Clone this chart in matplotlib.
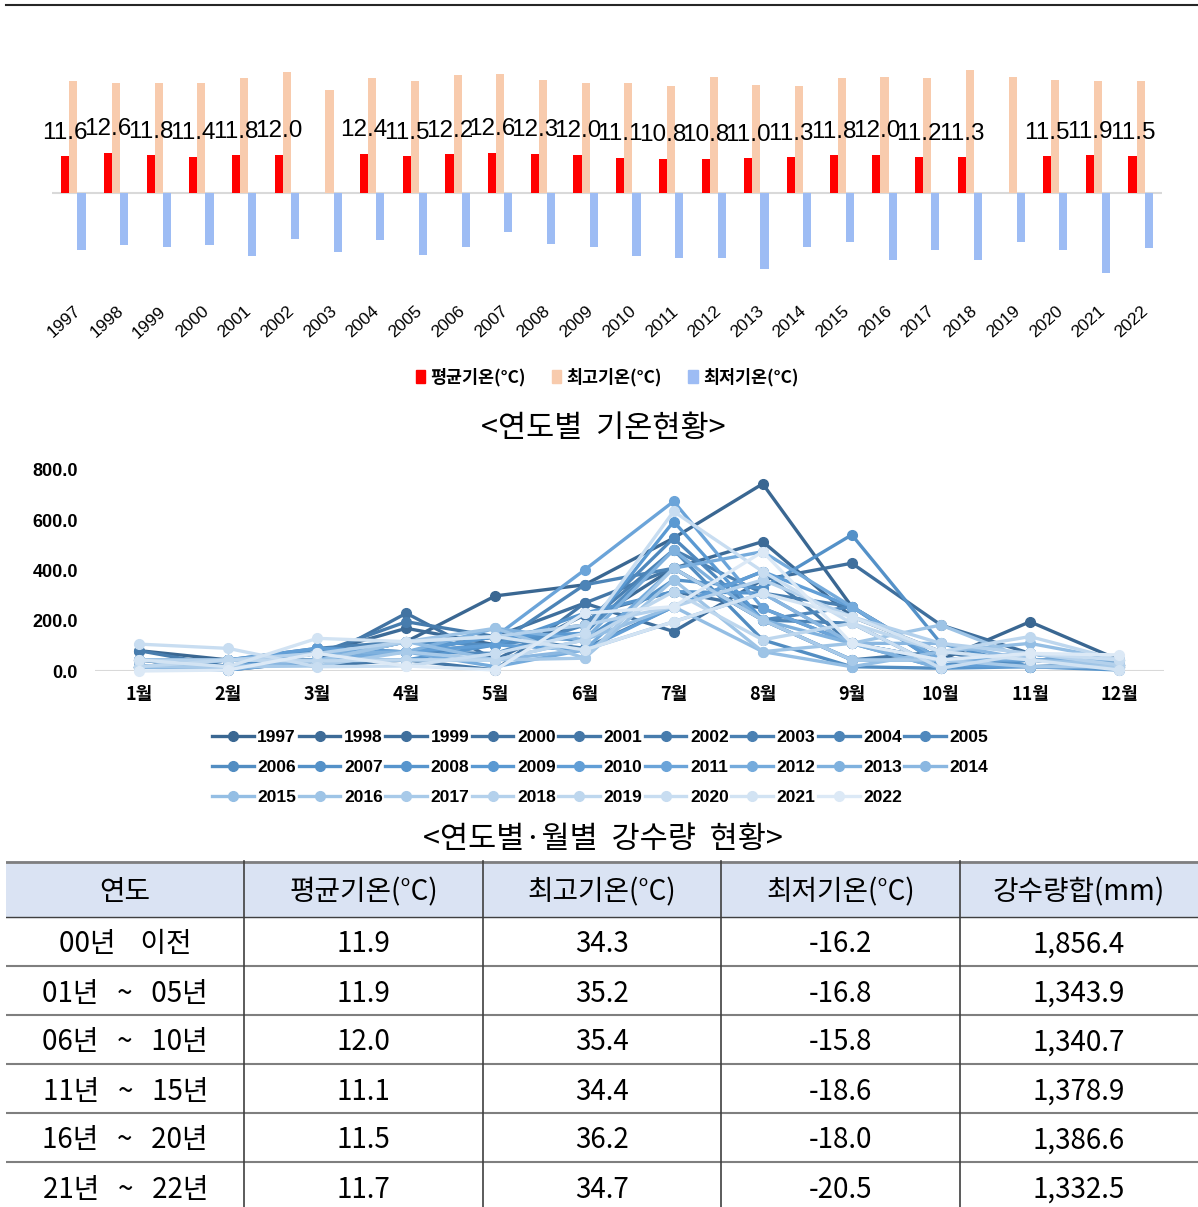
"""
Annual temperature and monthly precipitation summary, 1997-2022.
Writes out.png.
"""

import numpy as np
import matplotlib
matplotlib.use("Agg")
import matplotlib.pyplot as plt
from matplotlib.lines import Line2D
from matplotlib.patches import Patch, Rectangle
from matplotlib.colors import LinearSegmentedColormap

W, H = 1198, 1207
KR = ["Noto Sans CJK KR", "DejaVu Sans"]
NUM = ["Liberation Sans", "DejaVu Sans"]

YEARS = list(range(1997, 2023))
MEAN_TEMP = [11.6, 12.6, 11.8, 11.4, 11.8, 12.0, np.nan, 12.4, 11.5, 12.2, 12.6, 12.3, 12.0,
             11.1, 10.8, 10.8, 11.0, 11.3, 11.8, 12.0, 11.2, 11.3, np.nan, 11.5, 11.9, 11.5]
MAX_TEMP = [35.1, 34.6, 34.6, 34.6, 36.2, 38.1, 32.5, 36.2, 35.1, 37.1, 37.5, 35.6, 34.6,
            34.6, 33.5, 36.6, 34.1, 33.5, 36.2, 36.6, 36.2, 38.6, 36.6, 35.6, 35.1, 35.1]
MIN_TEMP = [-17.8, -16.5, -17.0, -16.5, -19.9, -14.5, -18.5, -14.9, -19.4, -17.0, -12.4, -15.9, -17.0,
            -19.9, -20.4, -20.4, -23.9, -16.9, -15.4, -21.0, -17.8, -21.0, -15.4, -17.8, -25.0, -17.4]
TEMP_LABELS = ["평균기온(°C)", "최고기온(°C)", "최저기온(°C)"]

MONTHS = [f"{m}월" for m in range(1, 13)]
# monthly precipitation (mm), one row per year, Jan..Dec
RAIN_MM = [
    [81, 44, 40, 117, 299, 343, 529, 745, 256, 44, 196, 44],   # 1997
    [17, 44, 70, 170, 104, 183, 409, 515, 216, 77, 44, 17],    # 1998
    [17, 17, 90, 76, 137, 270, 157, 363, 429, 183, 70, 24],    # 1999
    [44, 4, 40, 230, 44, 223, 316, 250, 110, 44, 44, 17],      # 2000
    [44, 44, 20, 44, 4, 270, 409, 203, 44, 77, 17, 24],        # 2001
    [81, 17, 70, 196, 137, 90, 256, 396, 110, 44, 44, 44],     # 2002
    [17, 44, 90, 117, 137, 183, 482, 310, 256, 24, 44, 17],    # 2003
    [17, 44, 44, 76, 104, 343, 409, 203, 190, 11, 44, 24],     # 2004
    [17, 17, 70, 76, 70, 183, 529, 203, 256, 44, 17, 17],      # 2005
    [17, 44, 40, 117, 104, 150, 482, 124, 17, 11, 44, 24],     # 2006
    [44, 17, 90, 76, 137, 124, 363, 330, 542, 110, 17, 24],    # 2007
    [17, 4, 40, 44, 104, 230, 316, 310, 110, 11, 17, 4],       # 2008
    [17, 44, 70, 76, 137, 150, 595, 203, 44, 44, 70, 24],      # 2009
    [44, 44, 90, 76, 104, 84, 256, 396, 256, 24, 17, 24],      # 2010
    [17, 17, 44, 117, 137, 402, 675, 250, 110, 44, 70, 17],    # 2011
    [17, 4, 44, 76, 17, 84, 409, 475, 256, 44, 44, 44],        # 2012
    [17, 44, 70, 76, 170, 124, 482, 203, 110, 11, 70, 24],     # 2013
    [17, 17, 44, 44, 44, 84, 196, 310, 110, 110, 44, 24],      # 2014
    [17, 44, 40, 117, 44, 124, 256, 77, 17, 77, 110, 44],      # 2015
    [17, 44, 40, 117, 170, 51, 363, 77, 110, 183, 44, 24],     # 2016
    [17, 17, 20, 76, 44, 51, 409, 203, 44, 44, 17, 17],        # 2017
    [44, 44, 70, 117, 137, 183, 256, 363, 216, 110, 70, 24],   # 2018
    [17, 44, 40, 44, 44, 124, 316, 124, 190, 77, 137, 44],     # 2019
    [107, 90, 17, 20, 70, 150, 635, 396, 190, 11, 70, 44],     # 2020
    [44, 17, 130, 117, 137, 84, 196, 310, 216, 77, 44, 4],     # 2021
    [0, 4, 70, 20, 4, 230, 256, 475, 110, 44, 70, 64],         # 2022
]

TABLE_HEADER = ["연도", "평균기온(°C)", "최고기온(°C)", "최저기온(°C)", "강수량합(mm)"]
PERIODS = ["00년    이전", "01년   ~   05년", "06년   ~   10년", "11년   ~   15년",
           "16년   ~   20년", "21년   ~   22년"]
PERIOD_MEAN = [11.9, 11.9, 12.0, 11.1, 11.5, 11.7]
PERIOD_MAX = [34.3, 35.2, 35.4, 34.4, 36.2, 34.7]
PERIOD_MIN = [-16.2, -16.8, -15.8, -18.6, -18.0, -20.5]
PERIOD_RAIN = [1856.4, 1343.9, 1340.7, 1378.9, 1386.6, 1332.5]


def px_box(left, top, right, bottom):
    return [left / W, 1 - bottom / H, (right - left) / W, (bottom - top) / H]


def row_major(items, ncol):
    """Reorder so a column-filled legend reads row by row."""
    cols = [[] for _ in range(ncol)]
    for i, it in enumerate(items):
        cols[i % ncol].append(it)
    out = []
    for c in cols:
        out.extend(c)
    return out


def draw_temperature_bars(fig):
    ax = fig.add_axes(px_box(52, 193 - 40 * 3.18, 1162, 193 + 33 * 3.18))
    x = np.arange(len(YEARS))
    w = 0.19
    mean = np.array(MEAN_TEMP)
    ax.bar(x - w, np.nan_to_num(mean), w, color="#ff0000", label=TEMP_LABELS[0])
    ax.bar(x, MAX_TEMP, w, color="#f8cbad", label=TEMP_LABELS[1])
    ax.bar(x + w, MIN_TEMP, w, color="#9dbcf4", label=TEMP_LABELS[2])

    for xi, v in zip(x, mean):
        if np.isnan(v):
            continue
        ax.annotate(f"{v:.1f}", (xi - w, v), xytext=(0, 9), textcoords="offset points",
                    ha="center", va="bottom", fontsize=17.5, family=NUM)

    ax.axhline(0, color="#d9d9d9", lw=1.5, zorder=0)
    ax.set_xlim(-0.5, len(YEARS) - 0.5)
    ax.set_ylim(-33, 40)
    ax.set_yticks([])
    ax.set_xticks(x)
    ax.set_xticklabels([str(y) for y in YEARS], rotation=42, ha="right",
                       rotation_mode="anchor", fontsize=12.5, family=NUM)
    ax.tick_params(axis="x", length=0, pad=4)
    for s in ax.spines.values():
        s.set_visible(False)

    handles = [Patch(color=c) for c in ("#ff0000", "#f8cbad", "#9dbcf4")]
    fig.legend(handles, TEMP_LABELS, loc="center", bbox_to_anchor=(607 / W, 1 - 377 / H),
               ncol=3, frameon=False, handlelength=0.55, handleheight=0.75,
               handletextpad=0.3, columnspacing=1.5,
               prop={"family": KR, "weight": "bold", "size": 12.5})


def draw_rain_lines(fig):
    ax = fig.add_axes(px_box(94.5, 470, 1163.6, 671))
    cmap = LinearSegmentedColormap.from_list("blues", ["#3a6792", "#5b9bd5", "#dce9f6"])
    months = np.arange(1, 13)
    n = len(YEARS)
    handles = []
    for i, (year, row) in enumerate(zip(YEARS, RAIN_MM)):
        c = cmap(i / (n - 1))
        ln, = ax.plot(months, row, "-o", color=c, lw=2.4, markersize=7, clip_on=False,
                      label=str(year))
        handles.append(ln)

    ax.axhline(0, color="#d9d9d9", lw=1.5, zorder=0)
    ax.set_xlim(0.5, 12.5)
    ax.set_ylim(0, 800)
    ax.set_yticks(np.arange(0, 801, 200))
    ax.set_yticklabels([f"{v:.1f}" for v in np.arange(0, 801, 200)],
                       fontsize=13, fontweight="bold", family=NUM)
    ax.set_xticks(months)
    ax.set_xticklabels(MONTHS, fontsize=13, fontweight="bold", family=KR)
    ax.tick_params(length=0)
    ax.tick_params(axis="y", pad=12)
    ax.tick_params(axis="x", pad=10)
    for s in ax.spines.values():
        s.set_visible(False)

    ncol = 9
    labels = [str(y) for y in YEARS]
    fig.legend(row_major(handles, ncol), row_major(labels, ncol), loc="upper left",
               bbox_to_anchor=(200 / W, 1 - 718 / H), ncol=ncol, frameon=False,
               handlelength=2.4, handletextpad=0.2, columnspacing=0.15,
               labelspacing=0.85, borderpad=0.2,
               prop={"family": NUM, "weight": "bold", "size": 12.5})


def draw_table(fig):
    ax = fig.add_axes(px_box(6, 861, 1198, 1207))
    tw, th = 1192, 346
    ax.set_xlim(0, tw)
    ax.set_ylim(th, 0)
    ax.axis("off")

    head_h, row_h = 56, 49
    col_w = tw / len(TABLE_HEADER)
    ax.add_patch(Rectangle((0, 0), tw, head_h, color="#dae3f3", zorder=0))

    ax.plot([0, tw], [1, 1], color="#7f7f7f", lw=2)
    ax.plot([0, tw], [head_h, head_h], color="#404040", lw=1)
    for k in range(1, len(PERIODS)):
        yy = head_h + k * row_h
        ax.plot([0, tw], [yy, yy], color="#7f7f7f", lw=1.5)
    for k in range(1, len(TABLE_HEADER)):
        ax.plot([k * col_w] * 2, [0, th + 5], color="#404040", lw=1.2, clip_on=False)

    for j, t in enumerate(TABLE_HEADER):
        ax.text((j + 0.5) * col_w, head_h / 2 + 3, t, ha="center", va="center",
                fontsize=20, family=KR)

    rows = zip(PERIODS, PERIOD_MEAN, PERIOD_MAX, PERIOD_MIN, PERIOD_RAIN)
    for i, (p, mn, mx, lo, rain) in enumerate(rows):
        cells = [p, f"{mn:.1f}", f"{mx:.1f}", f"{lo:.1f}", f"{rain:,.1f}"]
        yc = head_h + (i + 0.5) * row_h + 3
        for j, t in enumerate(cells):
            ax.text((j + 0.5) * col_w, yc, t, ha="center", va="center",
                    fontsize=20, family=KR, clip_on=False)


def main():
    fig = plt.figure(figsize=(W / 100, H / 100), dpi=100)
    fig.add_artist(Line2D([6 / W, 1], [1 - 5 / H] * 2, color="#262626", lw=1.5))

    draw_temperature_bars(fig)
    fig.text(603 / W, 1 - 428 / H, "<연도별  기온현황>", ha="center", va="center",
             fontsize=22, family=KR)

    draw_rain_lines(fig)
    fig.text(603 / W, 1 - 840 / H, "<연도별·월별  강수량  현황>", ha="center", va="center",
             fontsize=22, family=KR)

    draw_table(fig)
    fig.savefig("out.png", dpi=100)
    plt.close(fig)


if __name__ == "__main__":
    main()
